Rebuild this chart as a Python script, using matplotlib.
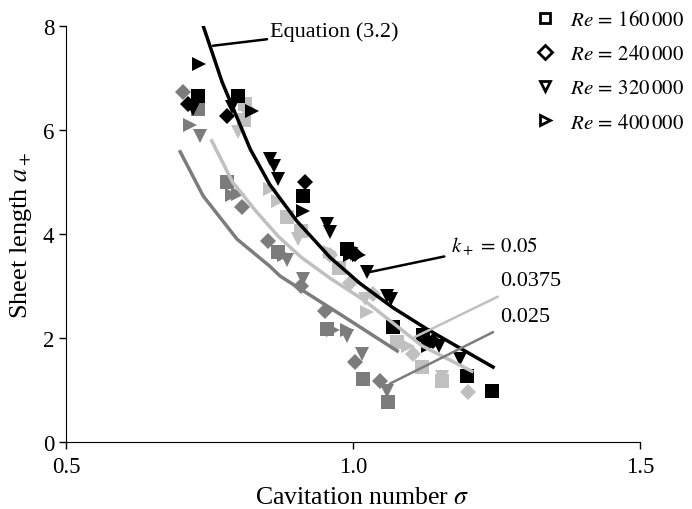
import matplotlib.pyplot as plt
from matplotlib.lines import Line2D

plt.rcParams['font.family'] = ['Liberation Serif', 'DejaVu Serif']
plt.rcParams['mathtext.fontset'] = 'stix'

# curves (sigma, a+)
eq_sigma = [0.739, 0.772, 0.821, 0.855, 0.902, 0.960, 1.012, 1.070, 1.129, 1.244]
eq_a = [8.00, 6.92, 5.63, 4.95, 4.25, 3.55, 3.05, 2.58, 2.17, 1.44]
k0375_sigma = [0.754, 0.790, 0.830, 0.870, 0.910, 0.960, 1.020, 1.120, 1.207]
k0375_a = [5.79, 5.00, 4.45, 3.95, 3.55, 3.15, 2.72, 1.85, 1.36]
k025_sigma = [0.699, 0.739, 0.798, 0.855, 0.873, 0.977, 1.077]
k025_a = [5.58, 4.73, 3.90, 3.38, 3.19, 2.46, 1.75]

# measured points, one dict per k+ group, keyed by Re marker
black_pts = {
    's': ([0.730, 0.800, 0.913, 0.990, 1.070, 1.122, 1.199, 1.242],
          [6.65, 6.65, 4.73, 3.71, 2.21, 2.05, 1.27, 0.98]),
    'D': ([0.713, 0.780, 0.916, 1.003, 1.140],
          [6.50, 6.27, 5.00, 3.62, 1.95]),
    'v': ([0.722, 0.790, 0.855, 0.862, 0.870, 0.955, 0.960, 0.997, 1.024, 1.059, 1.067, 1.150, 1.186],
          [6.40, 6.45, 5.44, 5.30, 5.05, 4.19, 4.04, 3.62, 3.27, 2.81, 2.75, 1.85, 1.60]),
    '>': ([0.732, 0.824, 0.913, 0.995, 1.010, 1.130],
          [7.27, 6.37, 4.45, 3.60, 3.60, 1.85]),
}
light_pts = {
    's': ([0.812, 0.810, 0.885, 0.910, 0.975, 1.077, 1.120, 1.155],
          [6.50, 6.20, 4.33, 4.05, 3.35, 1.92, 1.44, 1.18]),
    'D': ([0.815, 0.960, 0.995, 1.035, 1.105, 1.200],
          [6.40, 3.60, 3.05, 2.85, 1.69, 0.96]),
    'v': ([0.800, 0.905, 1.020, 1.155],
          [5.96, 3.90, 2.75, 1.25]),
    '>': ([0.855, 0.870, 0.960, 1.024, 1.095],
          [4.87, 4.63, 3.65, 2.50, 1.85]),
}
dark_pts = {
    's': ([0.730, 0.780, 0.870, 0.955, 1.017, 1.061],
          [6.40, 5.00, 3.65, 2.17, 1.21, 0.77]),
    'D': ([0.704, 0.807, 0.852, 0.910, 0.951, 1.004, 1.047],
          [6.73, 4.52, 3.87, 3.00, 2.52, 1.54, 1.17]),
    'v': ([0.733, 0.885, 0.912, 0.990, 1.016, 1.059],
          [5.88, 3.50, 3.13, 2.04, 1.69, 0.98]),
    '>': ([0.716, 0.800, 0.790, 0.880, 0.965, 0.990],
          [6.10, 4.77, 4.75, 3.60, 2.15, 2.15]),
}

re_labels = ['$Re\\,=\\,160\\,000$', '$Re\\,=\\,240\\,000$',
             '$Re\\,=\\,320\\,000$', '$Re\\,=\\,400\\,000$']
re_markers = ['s', 'D', 'v', '>']

black = '#000000'
light = '#c0c0c0'
dark = '#7c7c7c'
msize = {'s': 9.5, 'D': 8.5, 'v': 10.5, '>': 10.5}

fig = plt.figure(figsize=(6.92, 5.10), dpi=100)
ax = fig.add_axes([0.0954, 0.1314, 0.8295, 0.8157])

for pts, col in [(dark_pts, dark), (light_pts, light), (black_pts, black)]:
    for m, (xs, ys) in pts.items():
        ax.plot(xs, ys, linestyle='none', marker=m, markersize=msize[m],
                color=col, markeredgewidth=0)

ax.plot(k025_sigma, k025_a, color=dark, lw=2.5)
ax.plot(k0375_sigma, k0375_a, color=light, lw=2.5)
ax.plot(eq_sigma, eq_a, color=black, lw=2.5)

# annotations
ax.annotate('Equation (3.2)', xy=(0.756, 7.62), xytext=(0.855, 7.9),
            fontsize=16, va='center', ha='left',
            arrowprops=dict(arrowstyle='-', color=black, lw=1.8, shrinkA=0, shrinkB=0))
ax.annotate('$k_+\\,=\\,0.05$', xy=(1.03, 3.27), xytext=(1.171, 3.77),
            fontsize=15, va='center', ha='left',
            arrowprops=dict(arrowstyle='-', color=black, lw=1.8, shrinkA=3, shrinkB=0))
ax.annotate('0.0375', xy=(1.108, 2.02), xytext=(1.256, 3.1),
            fontsize=16, va='center', ha='left',
            arrowprops=dict(arrowstyle='-', color=light, lw=1.8, shrinkA=6, shrinkB=0))
ax.annotate('0.025', xy=(1.064, 1.12), xytext=(1.256, 2.42),
            fontsize=16, va='center', ha='left',
            arrowprops=dict(arrowstyle='-', color=dark, lw=1.8, shrinkA=6, shrinkB=0))

ax.set_xlim(0.5, 1.5)
ax.set_ylim(0, 8)
ax.set_xticks([0.5, 1.0, 1.5])
ax.set_xticklabels(['0.5', '1.0', '1.5'])
ax.set_yticks([0, 2, 4, 6, 8])
ax.tick_params(direction='out', length=5, width=1, labelsize=16.5)
ax.tick_params(axis='x', pad=5)
ax.spines['top'].set_visible(False)
ax.spines['right'].set_visible(False)
ax.set_xlabel('Cavitation number $\\sigma$', fontsize=18.5)
ax.xaxis.set_label_coords(0.516, -0.105)
ax.set_ylabel('Sheet length $a_+$', fontsize=19, labelpad=6)

handles = [Line2D([], [], linestyle='none', marker=m, markersize=7,
                  markerfacecolor='white', markeredgecolor='black', markeredgewidth=2)
           for m in re_markers]
fig.legend(handles, re_labels, loc='upper right', bbox_to_anchor=(1.016, 1.015),
           frameon=False, fontsize=15, labelspacing=0.7, handletextpad=0.6,
           handlelength=1.2)

fig.savefig('out.png', dpi=100)
